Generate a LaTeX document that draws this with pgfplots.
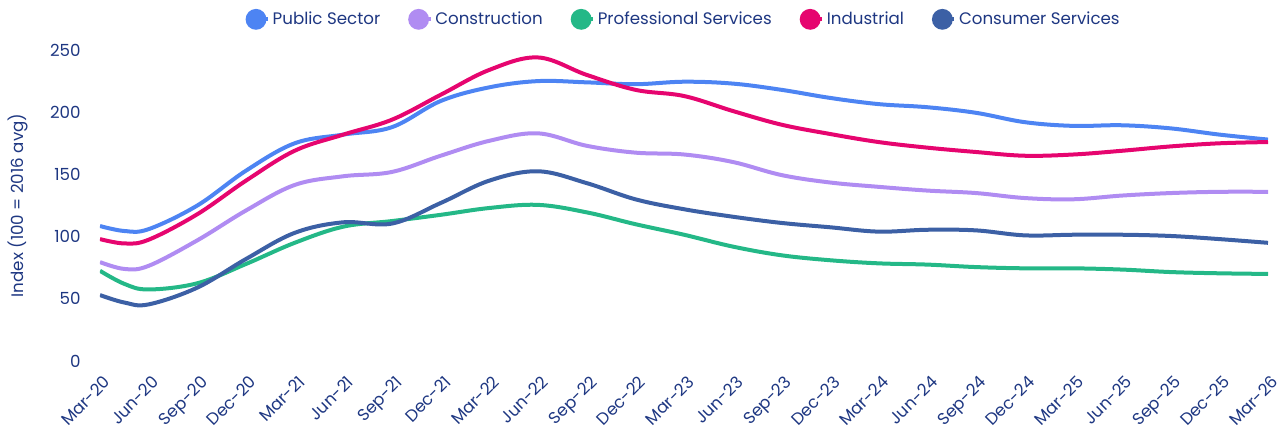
\documentclass[border=0pt]{standalone}
\usepackage{fontspec}
\setmainfont{Poppins}
\usepackage{pgfplots}
\pgfplotsset{compat=1.18}

\definecolor{txt}{RGB}{30,55,130}
\definecolor{pub}{RGB}{77,132,243}
\definecolor{con}{RGB}{176,140,242}
\definecolor{pro}{RGB}{36,184,135}
\definecolor{ind}{RGB}{230,5,111}
\definecolor{csm}{RGB}{60,96,165}

\newcommand{\fs}{\fontsize{12.5pt}{15pt}\selectfont}

\begin{document}
\begin{tikzpicture}
\useasboundingbox (-75pt,-54pt) rectangle (885pt,270.75pt);
\begin{axis}[
  scale only axis,
  width=876pt, height=233.25pt,
  xmin=0, xmax=24,
  ymin=0, ymax=250,
  axis x line*=bottom, axis y line*=left,
  axis line style={draw=none},
  tick style={draw=none},
  xtick={0,...,24},
  xticklabels={Mar-20,Jun-20,Sep-20,Dec-20,Mar-21,Jun-21,Sep-21,Dec-21,Mar-22,Jun-22,Sep-22,Dec-22,Mar-23,Jun-23,Sep-23,Dec-23,Mar-24,Jun-24,Sep-24,Dec-24,Mar-25,Jun-25,Sep-25,Dec-25,Mar-26},
  ytick={0,50,...,250},
  /pgf/number format/assume math mode=true,
  tick label style={font=\fs, text=txt},
  xticklabel style={xshift=2pt, yshift=-10pt, rotate=45, anchor=north east, inner sep=0pt},
  yticklabel style={xshift=-11pt},
  ylabel={Index (100 = 2016 avg)},
  ylabel style={font=\fs, text=txt, at={(axis description cs:-0.0702,0.5)}, anchor=center},
  legend columns=5,
  legend style={draw=none, font=\fs, text=txt, at={(0.5,1)}, anchor=center, yshift=23pt,
    /tikz/every even column/.append style={column sep=19pt}},
  legend image code/.code={\fill[#1] (0pt,0pt) circle (6.3pt); \path (6.3pt,0pt) -- (9pt,0pt);},
  every axis plot/.append style={line width=3pt, smooth, tension=0.6},
]
\addplot[pub] coordinates {
(0,108.5)(0.5,104.5)(1,106)(2,125)(3,153)(4,175)(5,182)(6,188)(7,209)(8,220)(9,225)(10,224)(11,222.5)(12,224.5)(13,223)(14,218)(15,211.5)(16,206.5)(17,204)(18,199.5)(19,192)(20,189)(21,189.5)(22,187)(23,182)(24,178)
};
\addlegendentry{Public Sector}
\addplot[con] coordinates {
(0,79.5)(0.5,74)(1,76.5)(2,97)(3,121)(4,141.5)(5,148.5)(6,152)(7,165)(8,177)(9,183)(10,173)(11,167.5)(12,166)(13,160)(14,149.5)(15,143.5)(16,140)(17,137)(18,135)(19,131)(20,130)(21,133)(22,135)(23,136)(24,136)
};
\addlegendentry{Construction}
\addplot[pro] coordinates {
(0,72.5)(0.5,62)(1,57.5)(2,62.5)(3,78)(4,95)(5,108)(6,112.5)(7,117.5)(8,123)(9,125.5)(10,119.5)(11,110)(12,101.5)(13,92)(14,85)(15,81)(16,78.5)(17,77.5)(18,75.5)(19,74.5)(20,74.5)(21,73.5)(22,71.5)(23,70.5)(24,70)
};
\addlegendentry{Professional Services}
\addplot[ind] coordinates {
(0,98)(0.5,94.5)(1,97.5)(2,118)(3,145)(4,169)(5,182)(6,194)(7,214)(8,234)(9,244)(10,230)(11,218)(12,213)(13,201)(14,190)(15,182.5)(16,176)(17,171.5)(18,168)(19,165)(20,166)(21,169)(22,172.5)(23,175)(24,176)
};
\addlegendentry{Industrial}
\addplot[csm] coordinates {
(0,53)(0.5,47)(1,45.5)(2,59)(3,82)(4,103)(5,111.5)(6,110.5)(7,127)(8,145)(9,152.5)(10,143)(11,130)(12,122)(13,116)(14,111)(15,107.5)(16,104)(17,105.5)(18,105)(19,101)(20,101.5)(21,101.5)(22,100.5)(23,98)(24,95)
};
\addlegendentry{Consumer Services}
\end{axis}
\end{tikzpicture}
\end{document}
